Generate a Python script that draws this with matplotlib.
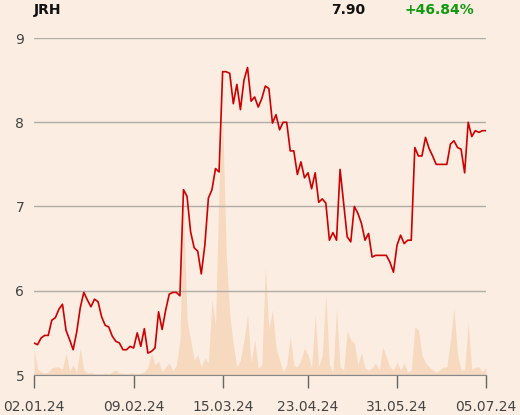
import matplotlib
matplotlib.use("Agg")
import matplotlib.pyplot as plt

# daily closes, 02.01.24 .. 05.07.24 (trading days)
prices = [
    5.38, 5.36, 5.44, 5.47, 5.47, 5.65, 5.68, 5.78, 5.84, 5.53,
    5.42, 5.30, 5.51, 5.80, 5.98, 5.89, 5.81, 5.90, 5.87, 5.69,
    5.59, 5.57, 5.46, 5.40, 5.38, 5.30, 5.30, 5.34, 5.32, 5.50,
    5.34, 5.55, 5.26, 5.28, 5.32, 5.75, 5.54, 5.77, 5.96, 5.98,
    5.98, 5.94, 7.20, 7.12, 6.70, 6.51, 6.47, 6.20, 6.54, 7.10,
    7.20, 7.45, 7.41, 8.60, 8.60, 8.58, 8.22, 8.45, 8.15, 8.50,
    8.65, 8.25, 8.30, 8.18, 8.28, 8.43, 8.40, 7.99, 8.09, 7.91,
    8.00, 8.00, 7.66, 7.66, 7.38, 7.53, 7.34, 7.40, 7.21, 7.40,
    7.05, 7.09, 7.04, 6.60, 6.69, 6.60, 7.44, 7.04, 6.64, 6.58,
    7.00, 6.92, 6.80, 6.60, 6.68, 6.40, 6.42, 6.42, 6.42, 6.42,
    6.34, 6.22, 6.54, 6.66, 6.56, 6.60, 6.60, 7.70, 7.60, 7.60,
    7.82, 7.69, 7.60, 7.50, 7.50, 7.50, 7.50, 7.74, 7.78, 7.70,
    7.68, 7.40, 8.00, 7.83, 7.90, 7.88, 7.90, 7.90,
]

# traded volume (thousands)
volume = [
    25, 6, 3, 2, 3, 7, 8, 8, 6, 22,
    4, 10, 3, 27, 5, 2, 3, 1, 1, 1,
    2, 1, 3, 5, 2, 2, 1, 2, 2, 1,
    2, 3, 8, 22, 10, 14, 3, 8, 12, 4,
    10, 35, 170, 55, 35, 15, 20, 8, 17, 12,
    75, 50, 190, 255, 122, 60, 30, 8, 15, 35,
    60, 12, 35, 7, 10, 108, 45, 65, 27, 15,
    3, 10, 38, 10, 8, 15, 27, 20, 7, 60,
    8, 20, 80, 10, 3, 66, 8, 5, 44, 35,
    32, 10, 22, 7, 5, 7, 12, 5, 28, 18,
    8, 5, 13, 5, 12, 3, 5, 48, 45, 20,
    12, 8, 5, 3, 5, 8, 8, 35, 67, 20,
    5, 5, 52, 5, 8, 8, 3, 8,
]

tick_pos = [0, 28, 53, 77, 102, 127]
tick_labels = ["02.01.24", "09.02.24", "15.03.24", "23.04.24", "31.05.24", "05.07.24"]
y_ticks = [5, 6, 7, 8, 9]

symbol = "JRH"
last_price = "7.90"
change = "+46.84%"

bg = "#fbede1"
x = list(range(len(prices)))

fig = plt.figure(figsize=(5.2, 4.15), dpi=100, facecolor=bg)
rect = [34 / 520, 40 / 415, 452 / 520, 337 / 415]

# volume area behind the price line
axv = fig.add_axes(rect, facecolor=bg)
axv.fill_between(x, volume, 0, color="#f7d9c0", lw=0)
axv.set_xlim(0, len(prices) - 1)
axv.set_ylim(0, max(volume) / 0.757)
axv.axis("off")

ax = fig.add_axes(rect)
ax.patch.set_alpha(0)
ax.plot(x, prices, color="#cc0000", lw=1.2, zorder=3)
ax.set_xlim(0, len(prices) - 1)
ax.set_ylim(5, 9)
ax.set_yticks(y_ticks)
ax.set_xticks(tick_pos)
ax.set_xticklabels(tick_labels)
ax.grid(axis="y", color="#b0aca8", lw=1)
for s in ["top", "right", "left"]:
    ax.spines[s].set_visible(False)
ax.spines["bottom"].set_color("#888888")
ax.tick_params(axis="y", length=0, pad=7, labelsize=10, labelcolor="#444444")
ax.tick_params(axis="x", length=9, width=1, color="#666666", pad=9,
               labelsize=10, labelcolor="#444444")

fig.text(34 / 520, 1 - 10 / 415, symbol, fontsize=10, fontweight="bold",
         ha="left", va="center", color="#111111")
fig.text(365 / 520, 1 - 10 / 415, last_price, fontsize=10, fontweight="bold",
         ha="right", va="center", color="#111111")
fig.text(474 / 520, 1 - 10 / 415, change, fontsize=10, fontweight="bold",
         ha="right", va="center", color="#119911")

fig.savefig("out.png", dpi=100, facecolor=bg)
